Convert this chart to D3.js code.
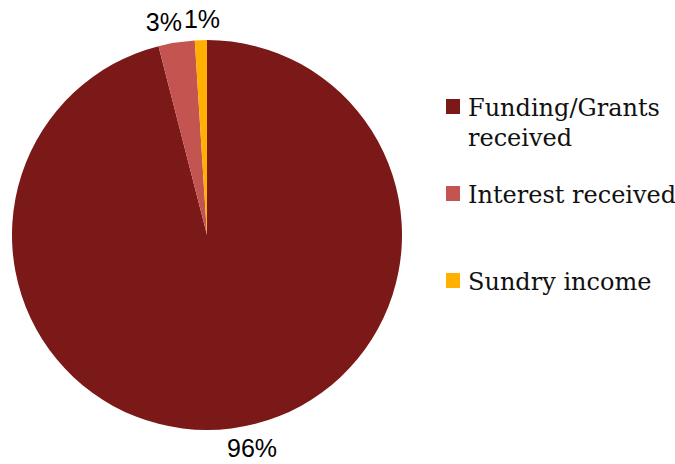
<!DOCTYPE html>
<html>
<head>
<meta charset="utf-8">
<script src="https://cdn.jsdelivr.net/npm/d3@7"></script>
<style>
  html, body { margin: 0; padding: 0; background: #fff; }
  svg { display: block; }
</style>
</head>
<body>
<svg id="chart" width="675" height="464"></svg>
<script>
// Income breakdown
const categories = ["Funding/Grants received", "Interest received", "Sundry income"];
const legendLines = [["Funding/Grants", "received"], ["Interest received"], ["Sundry income"]];
const shares = [96, 3, 1];
const colours = ["#7b1818", "#c4544f", "#ffb000"];

const svg = d3.select("#chart");
const cx = 207, cy = 235, radius = 195;

const data = categories.map((c, i) => ({ name: c, value: shares[i], lines: legendLines[i] }));

const pie = d3.pie().value(d => d.value).sort(null);
const arcs = pie(data);
const arc = d3.arc().innerRadius(0).outerRadius(radius);
const color = d3.scaleOrdinal().domain(categories).range(colours);

const g = svg.append("g").attr("transform", `translate(${cx},${cy})`);
g.selectAll("path.slice")
  .data(arcs)
  .join("path")
  .attr("class", "slice")
  .attr("d", arc)
  .attr("fill", d => color(d.data.name));

// Percentage labels placed outside the rim; the text is anchored at the
// side facing the pie so it hugs the rim.
const labelRY = 215, labelRX = 160;
g.selectAll("text.pct")
  .data(arcs)
  .join("text")
  .attr("class", "pct")
  .attr("font-family", "Liberation Sans, Arial, sans-serif")
  .attr("font-size", 25)
  .attr("fill", "#000")
  .each(function (d) {
    const a = (d.startAngle + d.endAngle) / 2;
    const s = Math.sin(a);
    const x = labelRX * s;
    const y = -labelRY * Math.cos(a);
    const anchor = s > 0.1 ? "start" : s < -0.1 ? "end" : "middle";
    d3.select(this)
      .attr("x", x)
      .attr("y", y)
      .attr("dy", "0.33em")
      .attr("text-anchor", anchor)
      .text(d.data.value + "%");
  });

// Legend
const legendX = 446, legendTops = [99, 186, 273];
const lg = svg.append("g");
data.forEach((d, i) => {
  const row = lg.append("g").attr("transform", `translate(${legendX},${legendTops[i]})`);
  row.append("rect")
    .attr("width", 14).attr("height", 15)
    .attr("fill", color(d.name));
  const t = row.append("text")
    .attr("x", 22)
    .attr("y", 17)
    .attr("font-family", "DejaVu Serif, Georgia, serif")
    .attr("font-size", 24)
    .attr("fill", "#111");
  d.lines.forEach((ln, j) => {
    t.append("tspan").attr("x", 22).attr("dy", j === 0 ? 0 : 30).text(ln);
  });
});
</script>
</body>
</html>
